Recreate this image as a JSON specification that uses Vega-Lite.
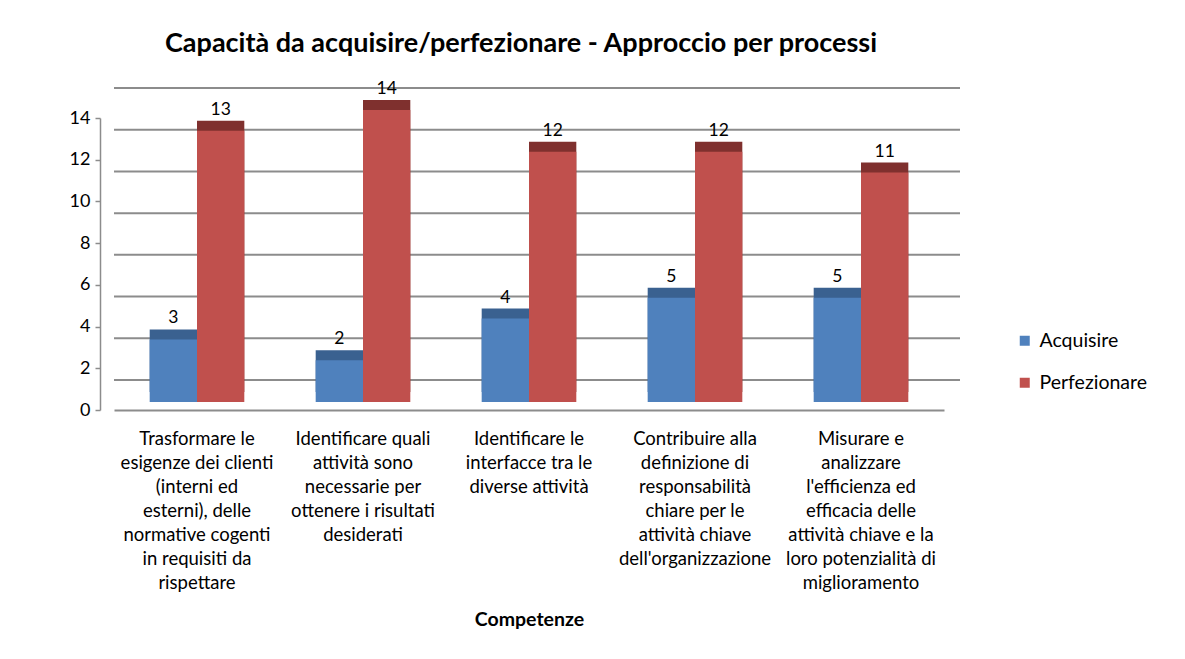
{
  "$schema": "https://vega.github.io/schema/vega-lite/v6.json",
  "width": 830,
  "height": 292,
  "autosize": {"type": "none"},
  "padding": {"left": 114, "top": 118, "right": 241, "bottom": 249},
  "background": "white",
  "title": {
    "text": "Capacità da acquisire/perfezionare - Approccio per processi",
    "font": "Lato",
    "fontSize": 27,
    "fontWeight": "bold",
    "color": "black",
    "anchor": "middle",
    "offset": 22,
    "dx": -8
  },
  "layer": [
    {
      "data": {"values": [{"griglia": 0}, {"griglia": 2}, {"griglia": 4}, {"griglia": 6}, {"griglia": 8}, {"griglia": 10}, {"griglia": 12}, {"griglia": 14}]},
      "mark": {"type": "rule", "color": "#8c8c8c", "strokeWidth": 2, "xOffset": 16, "x2Offset": 26, "yOffset": -30},
      "encoding": {
        "y": {
          "field": "griglia",
          "type": "quantitative",
          "scale": {"domain": [0, 14], "nice": false},
          "axis": {
            "title": null,
            "values": [0, 2, 4, 6, 8, 10, 12, 14],
            "labelFont": "Lato",
            "labelFontSize": 18,
            "labelColor": "black",
            "labelPadding": 5,
            "offset": 14,
            "tickColor": "#8c8c8c",
            "tickSize": 5,
            "tickWidth": 1.5,
            "domainColor": "#8c8c8c",
            "domainWidth": 1.5,
            "grid": false
          }
        }
      }
    },
    {
      "data": {
        "values": [
          {"competenza": "Trasformare le|esigenze dei clienti|(interni ed|esterni), delle|normative cogenti|in requisiti da|rispettare", "serie": "Acquisire", "valore": 3},
          {"competenza": "Trasformare le|esigenze dei clienti|(interni ed|esterni), delle|normative cogenti|in requisiti da|rispettare", "serie": "Perfezionare", "valore": 13},
          {"competenza": "Identificare quali|attività sono|necessarie per|ottenere i risultati|desiderati", "serie": "Acquisire", "valore": 2},
          {"competenza": "Identificare quali|attività sono|necessarie per|ottenere i risultati|desiderati", "serie": "Perfezionare", "valore": 14},
          {"competenza": "Identificare le|interfacce tra le|diverse attività", "serie": "Acquisire", "valore": 4},
          {"competenza": "Identificare le|interfacce tra le|diverse attività", "serie": "Perfezionare", "valore": 12},
          {"competenza": "Contribuire alla|definizione di|responsabilità|chiare per le|attività chiave|dell'organizzazione", "serie": "Acquisire", "valore": 5},
          {"competenza": "Contribuire alla|definizione di|responsabilità|chiare per le|attività chiave|dell'organizzazione", "serie": "Perfezionare", "valore": 12},
          {"competenza": "Misurare e|analizzare|l'efficienza ed|efficacia delle|attività chiave e la|loro potenzialità di|miglioramento", "serie": "Acquisire", "valore": 5},
          {"competenza": "Misurare e|analizzare|l'efficienza ed|efficacia delle|attività chiave e la|loro potenzialità di|miglioramento", "serie": "Perfezionare", "valore": 11}
        ]
      },
      "encoding": {
        "x": {
          "field": "competenza",
          "type": "nominal",
          "sort": null,
          "scale": {"paddingInner": 0.43, "paddingOuter": 0.215},
          "axis": {
            "title": "Competenze",
            "titleFont": "Lato",
            "titleFontSize": 19.5,
            "titleFontWeight": "bold",
            "titleColor": "black",
            "titlePadding": 19,
            "labelExpr": "split(datum.label, '|')",
            "labelAngle": 0,
            "labelFont": "Lato",
            "labelFontSize": 18.5,
            "labelColor": "black",
            "labelLineHeight": 24,
            "labelPadding": 19,
            "labelBaseline": "top",
            "labelLimit": 0,
            "domain": true,
            "domainColor": "#8c8c8c",
            "domainWidth": 2,
            "ticks": false,
            "grid": false
          }
        },
        "xOffset": {"field": "serie", "type": "nominal", "sort": ["Acquisire", "Perfezionare"]},
        "y": {
          "field": "valore",
          "type": "quantitative",
          "scale": {"domain": [0, 14], "nice": false},
          "axis": {
            "title": null,
            "values": [0, 2, 4, 6, 8, 10, 12, 14],
            "labelFont": "Lato",
            "labelFontSize": 18,
            "labelColor": "black",
            "labelPadding": 5,
            "offset": 14,
            "tickColor": "#8c8c8c",
            "tickSize": 5,
            "tickWidth": 1.5,
            "domainColor": "#8c8c8c",
            "domainWidth": 1.5,
            "grid": false
          }
        }
      },
      "layer": [
        {
          "mark": {"type": "bar", "xOffset": 12, "yOffset": -18},
          "encoding": {
            "color": {
              "field": "serie",
              "type": "nominal",
              "scale": {"domain": ["Acquisire", "Perfezionare"], "range": ["#3a6190", "#7f302e"]},
              "legend": null
            }
          }
        },
        {
          "mark": {"type": "bar", "yOffset": -8},
          "encoding": {
            "color": {
              "field": "serie",
              "type": "nominal",
              "scale": {"domain": ["Acquisire", "Perfezionare"], "range": ["#4f81bd", "#c0504d"]},
              "legend": {
                "title": null,
                "orient": "none",
                "legendX": 901,
                "legendY": 213,
                "symbolType": "square",
                "symbolSize": 100,
                "symbolStrokeWidth": 0,
                "labelFont": "Lato",
                "labelFontSize": 19.5,
                "labelColor": "black",
                "rowPadding": 21,
                "labelOffset": 5
              }
            }
          }
        },
        {
          "mark": {"type": "text", "dy": -20, "dx": 0, "font": "Lato", "fontSize": 17.5, "color": "black", "baseline": "bottom"},
          "encoding": {
            "text": {"field": "valore", "type": "quantitative"}
          }
        }
      ],
      "resolve": {"scale": {"color": "independent"}}
    }
  ],
  "config": {"view": {"stroke": null}}
}
